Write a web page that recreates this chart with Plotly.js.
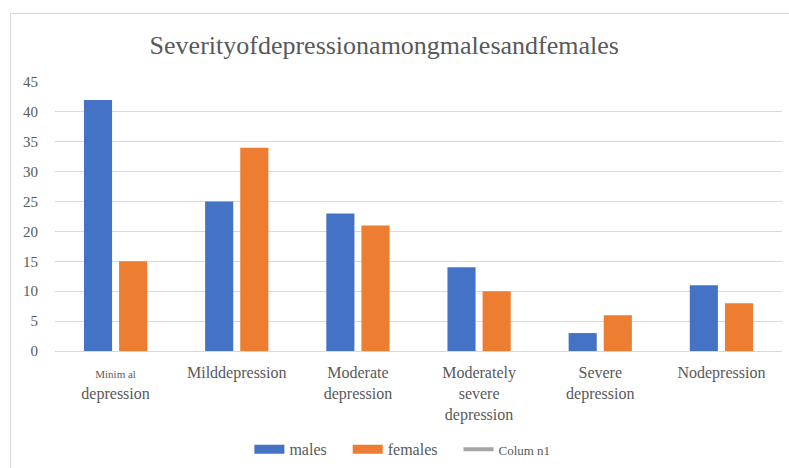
<!DOCTYPE html>
<html>
<head>
<meta charset="utf-8">
<script src="https://cdn.plot.ly/plotly-3.0.1.min.js"></script>
<style>
  html, body { margin: 0; padding: 0; background: #ffffff; overflow: hidden; }
  #frame { position: absolute; left: 10px; top: 13px; width: 800px; height: 470px;
           border: 1px solid #d9d9d9; box-sizing: border-box; }
  #chart { position: absolute; left: 0; top: 0; width: 789px; height: 468px; }
</style>
</head>
<body>
<div id="frame"></div>
<div id="chart"></div>
<script>
// Survey categories and counts per group
const categories = [
  '<span style="font-size:11px">Minim al</span><br>depression',
  'Milddepression',
  'Moderate<br>depression',
  'Moderately<br>severe<br>depression',
  'Severe<br>depression',
  'Nodepression'
];
const males   = [42, 25, 23, 14, 3, 11];
const females = [15, 34, 21, 10, 6, 8];
const column1 = [null, null, null, null, null, null];
const yTicks  = [0, 5, 10, 15, 20, 25, 30, 35, 40, 45];

const seriesNames  = ['males', 'females', 'Colum n1'];
const seriesColors = ['#4472c4', '#ed7d31', '#a5a5a5'];

const serif = 'Liberation Serif';
const noValues = categories.map(() => null);
// extra room after a legend entry
const pad = '&nbsp;&nbsp;&nbsp;&nbsp;';

const traces = [
  { type: 'bar', name: seriesNames[0], x: categories, y: males, showlegend: false,
    marker: { color: seriesColors[0] } },
  { type: 'bar', name: seriesNames[1], x: categories, y: females, showlegend: false,
    marker: { color: seriesColors[1] } },
  // Legend keys drawn as wide strips
  { type: 'scatter', mode: 'lines', name: seriesNames[0] + pad, x: categories, y: noValues,
    line: { color: seriesColors[0], width: 9 } },
  { type: 'scatter', mode: 'lines', name: seriesNames[1] + pad, x: categories, y: noValues,
    line: { color: seriesColors[1], width: 9 } },
  { type: 'scatter', mode: 'lines',
    name: '<span style="font-size:13px">' + seriesNames[2] + '</span>',
    x: categories, y: column1,
    line: { color: seriesColors[2], width: 4 } }
];

const layout = {
  width: 789, height: 468,
  paper_bgcolor: 'rgba(0,0,0,0)',
  plot_bgcolor: 'rgba(0,0,0,0)',
  margin: { l: 55, r: 7, t: 82, b: 117 },
  font: { family: serif, color: '#595959', size: 16 },
  title: {
    text: 'Severityofdepressionamongmalesandfemales',
    font: { family: serif, size: 26, color: '#595959' },
    x: 0.487, xanchor: 'center', y: 0.905, yanchor: 'middle'
  },
  barmode: 'group',
  bargap: 0.42,
  bargroupgap: 0.2,
  showlegend: true,
  legend: {
    orientation: 'h',
    xref: 'container', x: 0.51, xanchor: 'center',
    yref: 'container', y: 0.04, yanchor: 'middle',
    font: { family: serif, size: 16, color: '#595959' },
    itemwidth: 30
  },
  xaxis: {
    tickangle: 0, automargin: false,
    showgrid: false, zeroline: false, showline: false,
    ticks: '',
    ticklabelstandoff: 10,
    tickfont: { family: serif, size: 16, color: '#595959' }
  },
  yaxis: {
    range: [0, 45], automargin: false,
    tickvals: yTicks,
    showgrid: true, gridcolor: '#d9d9d9', gridwidth: 1,
    zeroline: true, zerolinecolor: '#d9d9d9',
    showline: false, ticks: '',
    ticklabelstandoff: 16,
    tickfont: { family: serif, size: 15, color: '#595959' }
  }
};

Plotly.newPlot('chart', traces, layout, { displayModeBar: false, staticPlot: true });
</script>
</body>
</html>
